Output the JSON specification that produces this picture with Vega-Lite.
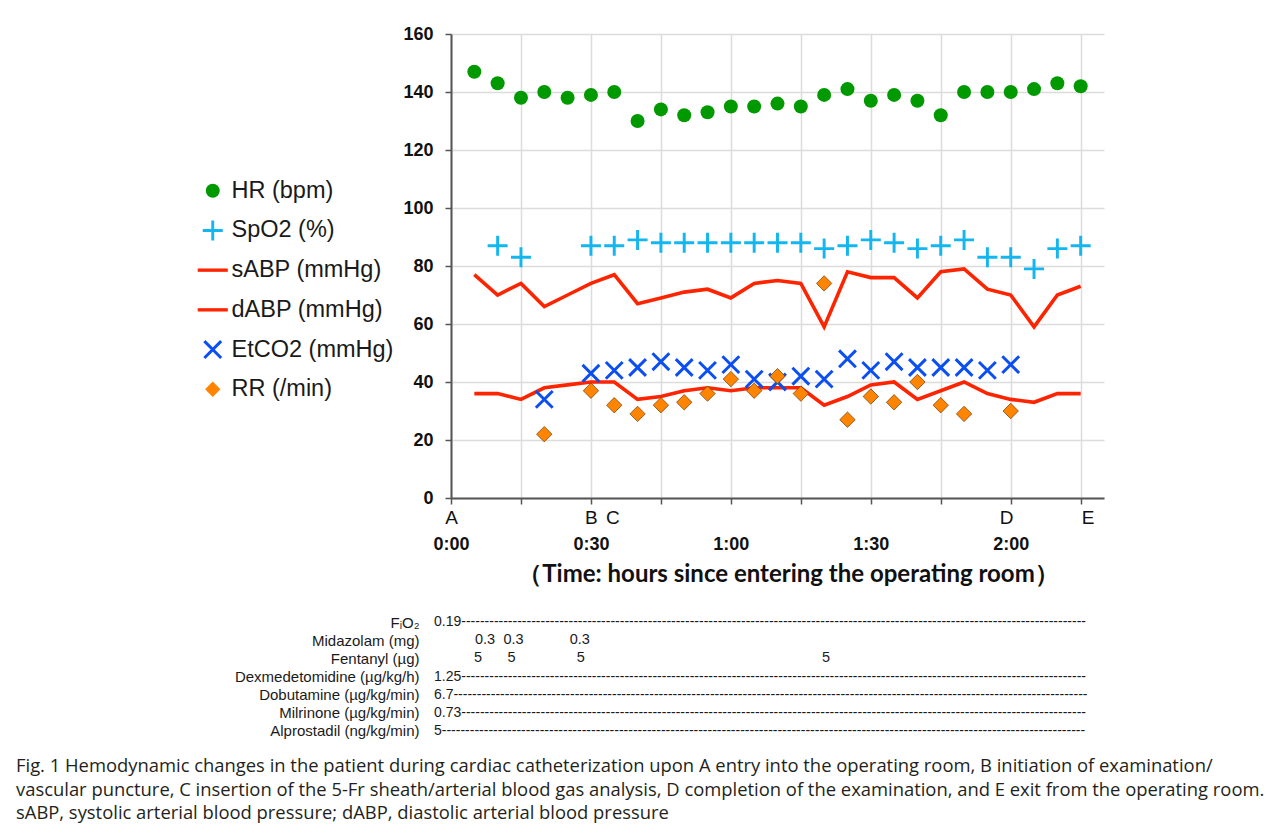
{
  "$schema": "https://vega.github.io/schema/vega-lite/v6.json",
  "padding": {"left": 16, "top": 25, "right": 10, "bottom": 5},
  "background": "white",
  "spacing": 27,
  "title": {
    "text": [
      "Fig. 1  Hemodynamic changes in the patient during cardiac catheterization upon A entry into the operating room, B initiation of examination/",
      "vascular puncture, C insertion of the 5-Fr sheath/arterial blood gas analysis, D completion of the examination, and E exit from the operating room.",
      "sABP, systolic arterial blood pressure; dABP, diastolic arterial blood pressure"
    ],
    "orient": "bottom",
    "anchor": "start",
    "frame": "bounds",
    "dx": -185,
    "offset": 17,
    "font": "Open Sans",
    "fontSize": 18.4,
    "fontWeight": "normal",
    "color": "#231f20",
    "lineHeight": 23.5
  },
  "config": {
    "view": {"stroke": null},
    "font": "Liberation Sans"
  },
  "datasets": {
    "vitals": [
      {"t": 5, "HR": 147, "sABP": 77, "dABP": 36},
      {"t": 10, "HR": 143, "SpO2": 87, "sABP": 70, "dABP": 36},
      {"t": 15, "HR": 138, "SpO2": 83, "sABP": 74, "dABP": 34},
      {"t": 20, "HR": 140, "sABP": 66, "dABP": 38, "EtCO2": 34, "RR": 22},
      {"t": 25, "HR": 138, "sABP": 70, "dABP": 39},
      {"t": 30, "HR": 139, "SpO2": 87, "sABP": 74, "dABP": 40, "EtCO2": 43, "RR": 37},
      {"t": 35, "HR": 140, "SpO2": 87, "sABP": 77, "dABP": 40, "EtCO2": 44, "RR": 32},
      {"t": 40, "HR": 130, "SpO2": 89, "sABP": 67, "dABP": 34, "EtCO2": 45, "RR": 29},
      {"t": 45, "HR": 134, "SpO2": 88, "sABP": 69, "dABP": 35, "EtCO2": 47, "RR": 32},
      {"t": 50, "HR": 132, "SpO2": 88, "sABP": 71, "dABP": 37, "EtCO2": 45, "RR": 33},
      {"t": 55, "HR": 133, "SpO2": 88, "sABP": 72, "dABP": 38, "EtCO2": 44, "RR": 36},
      {"t": 60, "HR": 135, "SpO2": 88, "sABP": 69, "dABP": 37, "EtCO2": 46, "RR": 41},
      {"t": 65, "HR": 135, "SpO2": 88, "sABP": 74, "dABP": 38, "EtCO2": 41, "RR": 37},
      {"t": 70, "HR": 136, "SpO2": 88, "sABP": 75, "dABP": 38, "EtCO2": 40, "RR": 42},
      {"t": 75, "HR": 135, "SpO2": 88, "sABP": 74, "dABP": 38, "EtCO2": 42, "RR": 36},
      {"t": 80, "HR": 139, "SpO2": 86, "sABP": 59, "dABP": 32, "EtCO2": 41, "RR": 74},
      {"t": 85, "HR": 141, "SpO2": 87, "sABP": 78, "dABP": 35, "EtCO2": 48, "RR": 27},
      {"t": 90, "HR": 137, "SpO2": 89, "sABP": 76, "dABP": 39, "EtCO2": 44, "RR": 35},
      {"t": 95, "HR": 139, "SpO2": 88, "sABP": 76, "dABP": 40, "EtCO2": 47, "RR": 33},
      {"t": 100, "HR": 137, "SpO2": 86, "sABP": 69, "dABP": 34, "EtCO2": 45, "RR": 40},
      {"t": 105, "HR": 132, "SpO2": 87, "sABP": 78, "dABP": 37, "EtCO2": 45, "RR": 32},
      {"t": 110, "HR": 140, "SpO2": 89, "sABP": 79, "dABP": 40, "EtCO2": 45, "RR": 29},
      {"t": 115, "HR": 140, "SpO2": 83, "sABP": 72, "dABP": 36, "EtCO2": 44},
      {"t": 120, "HR": 140, "SpO2": 83, "sABP": 70, "dABP": 34, "EtCO2": 46, "RR": 30},
      {"t": 125, "HR": 141, "SpO2": 79, "sABP": 59, "dABP": 33},
      {"t": 130, "HR": 143, "SpO2": 86, "sABP": 70, "dABP": 36},
      {"t": 135, "HR": 142, "SpO2": 87, "sABP": 73, "dABP": 36}
    ],
    "drugs": [
      {"drug": "FᵢO₂", "t": 0, "kind": "cont", "label": "0.19--------------------------------------------------------------------------------------------------------------------------------------"},
      {"drug": "Midazolam (mg)", "t": 7.3, "kind": "bolus", "label": "0.3"},
      {"drug": "Midazolam (mg)", "t": 13.4, "kind": "bolus", "label": "0.3"},
      {"drug": "Midazolam (mg)", "t": 27.6, "kind": "bolus", "label": "0.3"},
      {"drug": "Fentanyl (µg)", "t": 5.8, "kind": "bolus", "label": "5"},
      {"drug": "Fentanyl (µg)", "t": 13, "kind": "bolus", "label": "5"},
      {"drug": "Fentanyl (µg)", "t": 27.8, "kind": "bolus", "label": "5"},
      {"drug": "Fentanyl (µg)", "t": 80.4, "kind": "bolus", "label": "5"},
      {"drug": "Dexmedetomidine (µg/kg/h)", "t": 0, "kind": "cont", "label": "1.25--------------------------------------------------------------------------------------------------------------------------------------"},
      {"drug": "Dobutamine (µg/kg/min)", "t": 0, "kind": "cont", "label": "6.7----------------------------------------------------------------------------------------------------------------------------------------"},
      {"drug": "Milrinone (µg/kg/min)", "t": 0, "kind": "cont", "label": "0.73--------------------------------------------------------------------------------------------------------------------------------------"},
      {"drug": "Alprostadil (ng/kg/min)", "t": 0, "kind": "cont", "label": "5------------------------------------------------------------------------------------------------------------------------------------------"}
    ]
  },
  "vconcat": [
    {
      "width": 653,
      "height": 464,
      "data": {"name": "vitals"},
      "transform": [
        {"fold": ["HR", "SpO2", "sABP", "dABP", "EtCO2", "RR"], "as": ["series", "value"]},
        {"filter": "isValid(datum.value)"}
      ],
      "encoding": {
        "y": {
          "field": "value",
          "type": "quantitative",
          "scale": {"domain": [0, 160], "nice": false},
          "axis": {
            "values": [0, 20, 40, 60, 80, 100, 120, 140, 160],
            "grid": true,
            "gridColor": "#dcdcdc",
            "gridWidth": 1.5,
            "domainColor": "#555555",
            "domainWidth": 2,
            "tickColor": "#555555",
            "tickSize": 6,
            "tickWidth": 1.5,
            "labelFont": "Liberation Sans",
            "labelFontWeight": "bold",
            "labelFontSize": 18,
            "labelColor": "#111111",
            "labelPadding": 12,
            "title": null
          }
        }
      },
      "layer": [
        {
          "transform": [{"filter": {"field": "series", "oneOf": ["sABP", "dABP"]}}],
          "mark": {"type": "line", "stroke": "#ff2400", "strokeWidth": 3.6},
          "encoding": {
            "x": {
              "field": "t",
              "type": "quantitative",
              "scale": {"domain": [0, 140], "nice": false},
              "axis": {
                "orient": "bottom",
                "values": [0, 15, 30, 45, 60, 75, 90, 105, 120, 135],
                "labelExpr": "datum.value % 30 === 0 && datum.value <= 120 ? floor(datum.value / 60) + ':' + (datum.value % 60 === 0 ? '00' : '30') : ''",
                "grid": true,
                "gridColor": "#dcdcdc",
                "gridWidth": 1.5,
                "domainColor": "#555555",
                "domainWidth": 2,
                "tickColor": "#555555",
                "tickSize": 6,
                "tickWidth": 1.5,
                "labelFont": "Liberation Sans",
                "labelFontWeight": "bold",
                "labelFontSize": 18,
                "labelColor": "#111111",
                "labelPadding": 31,
                "labelOverlap": false,
                "labelFlush": false,
                "labelBound": false,
                "title": "（Time: hours since entering the operating room）",
                "titleFont": "Lato",
                "titleFontWeight": "bold",
                "titleFontSize": 24,
                "titleColor": "#111111",
                "titlePadding": 9,
                "titleX": 337
              }
            },
            "detail": {"field": "series", "type": "nominal"}
          }
        },
        {
          "transform": [{"filter": {"not": {"field": "series", "oneOf": ["sABP", "dABP"]}}}],
          "mark": {"type": "point", "filled": true, "size": 196, "opacity": 1, "strokeWidth": 0.7},
          "encoding": {
            "x": {
              "field": "t",
              "type": "quantitative",
              "scale": {"domain": [0, 140], "nice": false},
              "axis": {
                "orient": "bottom",
                "values": [0, 30, 34.6, 119, 136.5],
                "labelExpr": "datum.value < 1 ? 'A' : datum.value < 32 ? 'B' : datum.value < 40 ? 'C' : datum.value < 125 ? 'D' : 'E'",
                "grid": false,
                "domain": false,
                "ticks": false,
                "tickSize": 0,
                "labelFont": "Liberation Sans",
                "labelFontSize": 19,
                "labelColor": "#111111",
                "labelPadding": 10,
                "labelOverlap": false,
                "labelFlush": false,
                "labelBound": false,
                "title": null
              }
            },
            "color": {
              "field": "series",
              "type": "nominal",
              "scale": {
                "domain": ["HR", "SpO2", "sABP", "dABP", "EtCO2", "RR"],
                "range": ["#009900", "#13b6ef", "#ff2400", "#ff2400", "#0b4ff2", "#ff8400"]
              },
              "legend": {
                "orient": "none",
                "legendX": -250,
                "legendY": 145,
                "title": null,
                "padding": 0,
                "labelFont": "Liberation Sans",
                "labelFontSize": 23.5,
                "labelColor": "#1a1a1a",
                "labelOffset": 7,
                "labelLimit": 400,
                "rowPadding": 14.7,
                "symbolSize": 196,
                "symbolOpacity": 1,
                "symbolStrokeWidth": 0,
                "labelExpr": "datum.label == 'HR' ? 'HR (bpm)' : datum.label == 'SpO2' ? 'SpO2 (%)' : datum.label == 'sABP' ? 'sABP (mmHg)' : datum.label == 'dABP' ? 'dABP (mmHg)' : datum.label == 'EtCO2' ? 'EtCO2 (mmHg)' : 'RR (/min)'"
              }
            },
            "shape": {
              "field": "series",
              "type": "nominal",
              "scale": {
                "domain": ["HR", "SpO2", "sABP", "dABP", "EtCO2", "RR"],
                "range": [
                  "circle",
                  "M-1.43,-0.21H1.43V0.21H-1.43Z M-0.21,-1.43H0.21V1.43H-0.21Z",
                  "M-2.15,-0.24H2.15V0.24H-2.15Z",
                  "M-2.15,-0.24H2.15V0.24H-2.15Z",
                  "M-1.05,-1.35L1.35,1.05L1.05,1.35L-1.35,-1.05Z M-1.35,1.05L1.05,-1.35L1.35,-1.05L-1.05,1.35Z",
                  "M0,-1.1L1.1,0L0,1.1L-1.1,0Z"
                ]
              },
              "legend": {
                "orient": "none",
                "legendX": -250,
                "legendY": 145,
                "title": null,
                "padding": 0,
                "labelFont": "Liberation Sans",
                "labelFontSize": 23.5,
                "labelColor": "#1a1a1a",
                "labelOffset": 7,
                "labelLimit": 400,
                "rowPadding": 14.7,
                "symbolSize": 196,
                "symbolOpacity": 1,
                "symbolStrokeWidth": 0,
                "labelExpr": "datum.label == 'HR' ? 'HR (bpm)' : datum.label == 'SpO2' ? 'SpO2 (%)' : datum.label == 'sABP' ? 'sABP (mmHg)' : datum.label == 'dABP' ? 'dABP (mmHg)' : datum.label == 'EtCO2' ? 'EtCO2 (mmHg)' : 'RR (/min)'"
              }
            },
            "stroke": {
              "condition": {"test": "datum.series === 'RR'", "value": "#6b3a0a"},
              "value": "transparent"
            }
          }
        }
      ],
      "resolve": {"axis": {"x": "independent"}}
    },
    {
      "width": 653,
      "height": 127,
      "data": {"name": "drugs"},
      "encoding": {
        "x": {
          "field": "t",
          "type": "quantitative",
          "scale": {"domain": [0, 140], "nice": false},
          "axis": null
        },
        "y": {
          "field": "drug",
          "type": "nominal",
          "sort": ["FᵢO₂", "Midazolam (mg)", "Fentanyl (µg)", "Dexmedetomidine (µg/kg/h)", "Dobutamine (µg/kg/min)", "Milrinone (µg/kg/min)", "Alprostadil (ng/kg/min)"],
          "scale": {"paddingInner": 0, "paddingOuter": 0},
          "axis": {
            "title": null,
            "domain": false,
            "ticks": false,
            "grid": false,
            "labelFont": "Liberation Sans",
            "labelFontSize": 15,
            "labelColor": "#1a1a1a",
            "labelPadding": 32,
            "labelLimit": 400
          }
        },
        "text": {"field": "label"}
      },
      "layer": [
        {
          "transform": [{"filter": "datum.kind === 'cont'"}],
          "mark": {"type": "text", "align": "left", "baseline": "middle", "dx": -17, "font": "Liberation Sans", "fontSize": 14, "color": "#1a1a1a"}
        },
        {
          "transform": [{"filter": "datum.kind === 'bolus'"}],
          "mark": {"type": "text", "align": "center", "baseline": "middle", "font": "Liberation Sans", "fontSize": 14.5, "color": "#1a1a1a"}
        }
      ]
    }
  ]
}
